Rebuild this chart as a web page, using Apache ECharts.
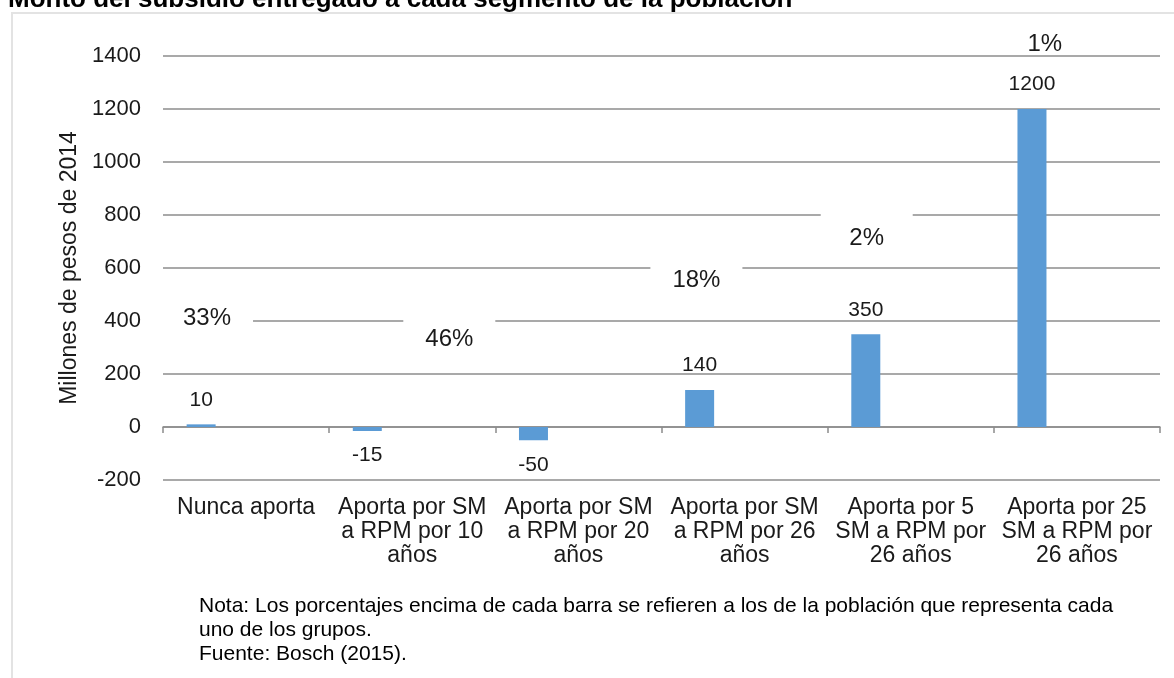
<!DOCTYPE html>
<html>

<head>
    <meta charset="utf-8">
    <title>ECharts</title>
    <script src="https://cdn.jsdelivr.net/npm/echarts@6.0.0/dist/echarts.min.js"></script>
    <style>
        html, body { margin: 0; padding: 0; background: #fff; }
    </style>
</head>

<body>
    <div id="main" style="width: 1174px; height: 678px;"></div>

    <script>
        // categorias del eje x
        var categorias = [
            'Nunca aporta',
            'Aporta por SM\na RPM por 10\naños',
            'Aporta por SM\na RPM por 20\naños',
            'Aporta por SM\na RPM por 26\naños',
            'Aporta por 5\nSM a RPM por\n26 años',
            'Aporta por 25\nSM a RPM por\n26 años'
        ];
        // monto del subsidio (millones de pesos de 2014)
        var subsidio = [10, -15, -50, 140, 350, 1200];
        // porcentaje de la poblacion de cada grupo
        var poblacion = ['33%', '46%', '18%', '2%', '1%'];
        // donde va cada etiqueta de porcentaje (x en categorias, y en millones)
        var etiquetaX = [0.265, 1.723, 3.21, 4.235, 5.307];
        var etiquetaY = [415, 336, 558, 717, 1449];

        var myChart = echarts.init(document.getElementById('main'));

        var datosBarras = subsidio.map(function (v) {
            return {
                value: v,
                label: { position: v < 0 ? 'bottom' : 'top' }
            };
        });

        var datosEtiquetas = poblacion.map(function (p, i) {
            return { value: [etiquetaX[i], etiquetaY[i]], name: p };
        });

        var gris = '#8c8c8c';
        var fuente = '"Liberation Sans", Arial, sans-serif';

        var option = {
            animation: false,
            backgroundColor: '#fff',
            textStyle: { fontFamily: fuente, color: '#1a1a1a' },
            grid: { left: 163, right: 14, top: 56, bottom: 198 },
            xAxis: [{
                type: 'category',
                data: categorias,
                axisLine: { onZero: true, lineStyle: { color: gris, width: 1.5 } },
                axisTick: { show: true, length: 6, lineStyle: { color: gris, width: 1.5 } },
                axisLabel: { show: false },
                splitLine: { show: false }
            }, {
                type: 'category',
                data: categorias,
                position: 'bottom',
                axisLine: { show: false, onZero: false },
                axisTick: { show: false },
                axisLabel: {
                    margin: 16,
                    fontSize: 23,
                    lineHeight: 24,
                    color: '#1a1a1a',
                    fontFamily: fuente,
                    interval: 0
                }
            }, {
                type: 'value',
                min: 0,
                max: 6,
                show: false
            }],
            yAxis: {
                type: 'value',
                min: -200,
                max: 1400,
                interval: 200,
                name: 'Millones de pesos de 2014',
                nameLocation: 'middle',
                nameGap: 82,
                nameTextStyle: { fontSize: 23, color: '#1a1a1a', fontFamily: fuente },
                axisLine: { show: false },
                axisTick: { show: false },
                axisLabel: {
                    fontSize: 22,
                    margin: 22,
                    color: '#1a1a1a',
                    fontFamily: fuente,
                    formatter: function (v) { return String(v); }
                },
                splitLine: { lineStyle: { color: gris, width: 1.5 } }
            },
            series: [{
                type: 'bar',
                xAxisIndex: 0,
                data: datosBarras,
                barWidth: 29,
                barGap: '210%',
                itemStyle: { color: '#5b9bd5' },
                label: {
                    show: true,
                    distance: 14,
                    fontSize: 21,
                    color: '#1a1a1a',
                    fontFamily: fuente
                }
            }, {
                // serie vacia: solo reserva el hueco derecho de cada categoria
                type: 'bar',
                xAxisIndex: 0,
                data: [],
                barWidth: 29
            }, {
                // recuadro blanco de cada etiqueta (tapa la cuadricula)
                type: 'scatter',
                xAxisIndex: 2,
                data: datosEtiquetas,
                symbol: 'rect',
                symbolSize: [92, 34],
                symbolOffset: [0, -7],
                clip: false,
                z: 4,
                itemStyle: { color: '#fff', opacity: 1 },
                emphasis: { disabled: true },
                silent: true
            }, {
                type: 'scatter',
                xAxisIndex: 2,
                data: datosEtiquetas,
                symbolSize: 1,
                clip: false,
                z: 5,
                itemStyle: { color: '#fff', opacity: 1 },
                emphasis: { disabled: true },
                label: {
                    show: true,
                    position: 'inside',
                    formatter: '{b}',
                    fontSize: 24,
                    color: '#1a1a1a',
                    fontFamily: fuente,
                    offset: [0, 1]
                }
            }],
            graphic: [{
                type: 'rect',
                shape: { x: 12, y: 13, width: 1300, height: 800 },
                style: { fill: 'none', stroke: '#e3e3e3', lineWidth: 2 },
                z: -10
            }, {
                type: 'text',
                left: 8,
                top: -13,
                style: {
                    text: 'Monto del subsidio entregado a cada segmento de la población',
                    font: 'bold 26px "Liberation Sans", Arial, sans-serif',
                    fill: '#000'
                }
            }, {
                type: 'text',
                left: 199,
                top: 594,
                style: {
                    text: 'Nota: Los porcentajes encima de cada barra se refieren a los de la población que representa cada\nuno de los grupos.\nFuente: Bosch (2015).',
                    font: '21px "Liberation Sans", Arial, sans-serif',
                    lineHeight: 24,
                    fill: '#000'
                }
            }]
        };

        myChart.setOption(option);
    </script>
</body>

</html>
